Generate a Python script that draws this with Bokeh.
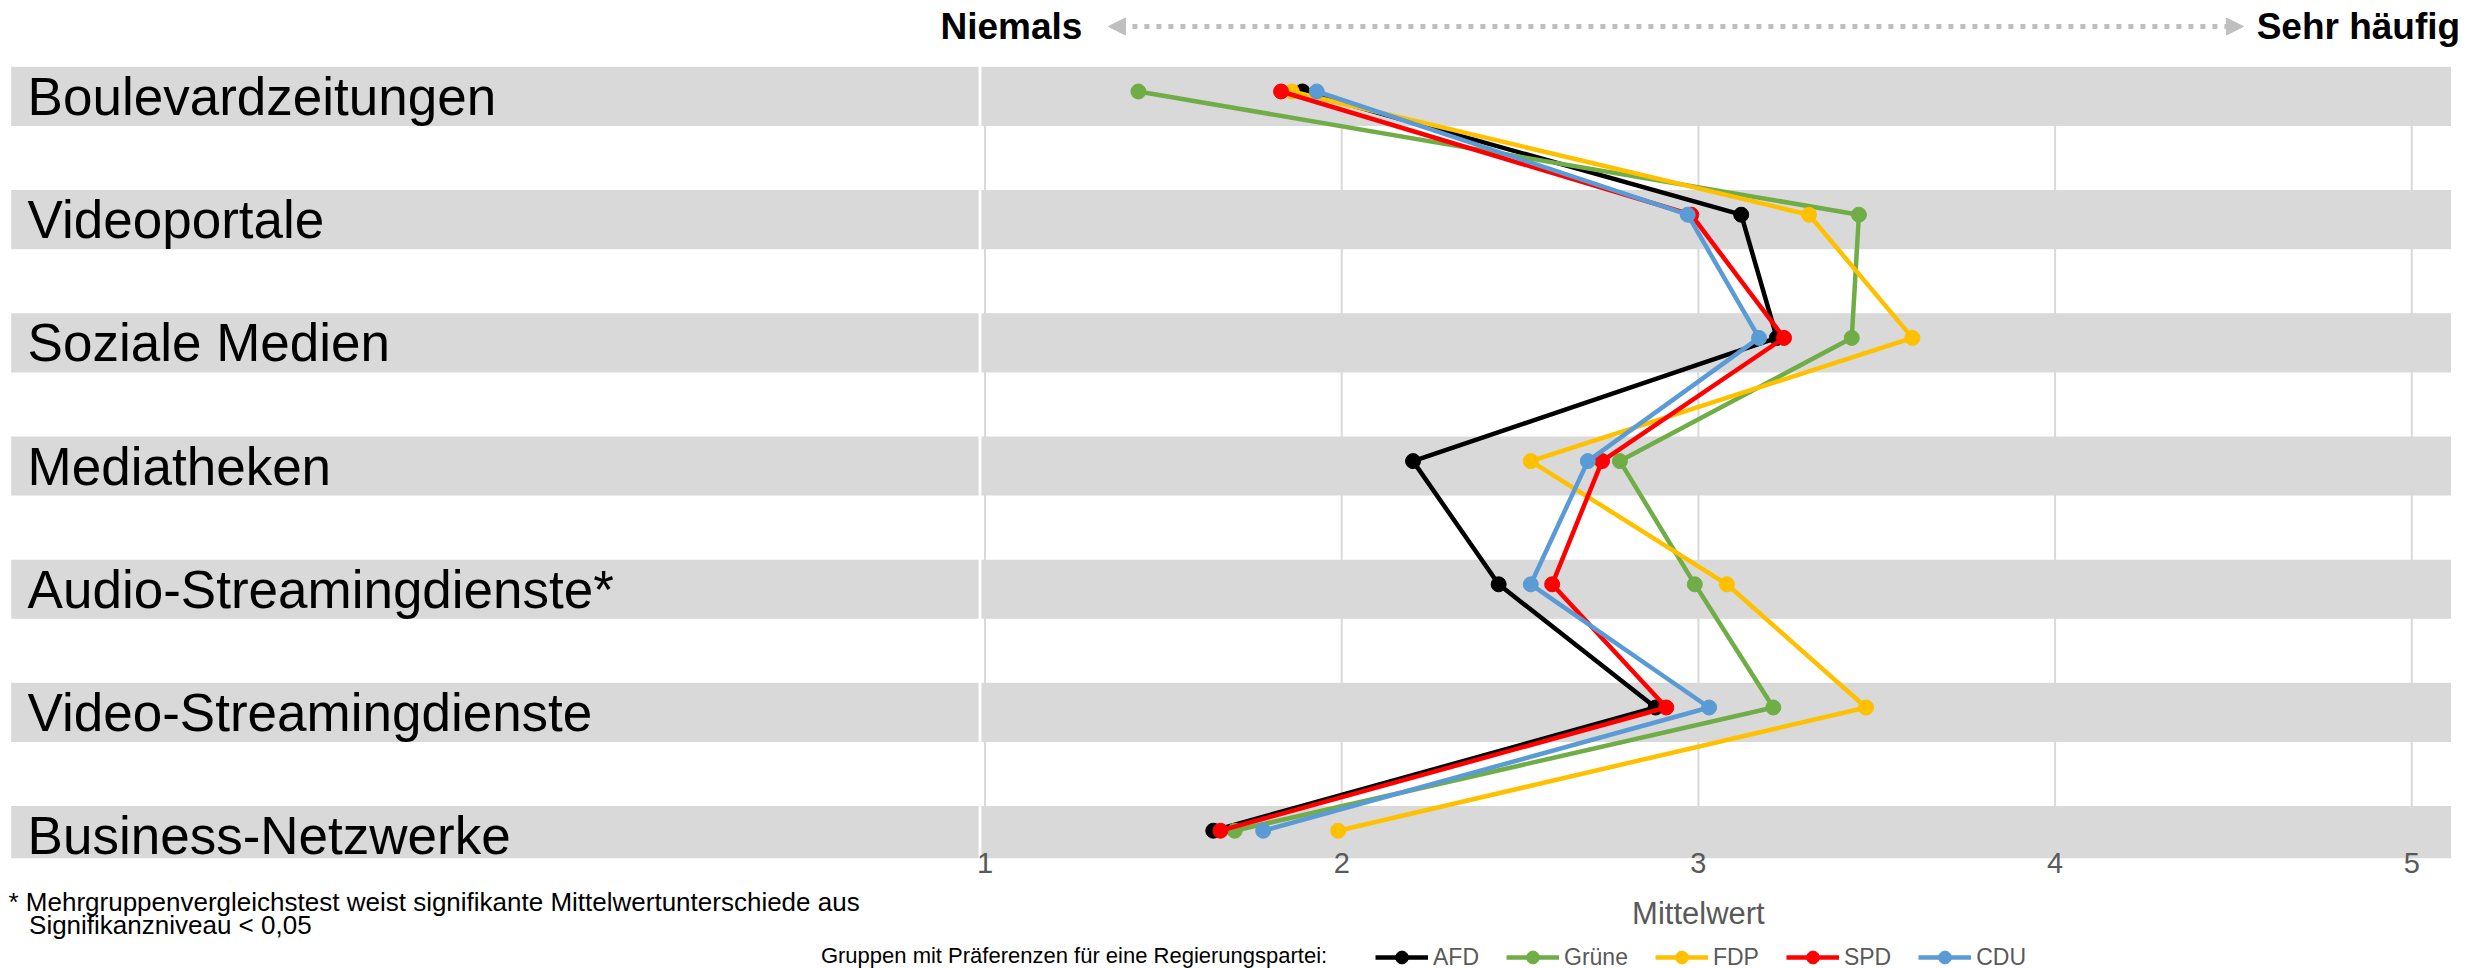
from bokeh.plotting import figure
from bokeh.layouts import column
from bokeh.models import (Range1d, Legend, LegendItem, Arrow, NormalHead, FixedTicker)
from bokeh.core.properties import value
from bokeh.embed import file_html
from bokeh.resources import INLINE

# ---------------- data ----------------
categories = ["Boulevardzeitungen", "Videoportale", "Soziale Medien", "Mediatheken",
              "Audio-Streamingdienste*", "Video-Streamingdienste", "Business-Netzwerke"]
afd    = [1.89, 3.12, 3.22, 2.20, 2.44, 2.88, 1.64]
gruene = [1.43, 3.45, 3.43, 2.78, 2.99, 3.21, 1.70]
fdp    = [1.86, 3.31, 3.60, 2.53, 3.08, 3.47, 1.99]
spd    = [1.83, 2.98, 3.24, 2.73, 2.59, 2.91, 1.66]
cdu    = [1.93, 2.97, 3.17, 2.69, 2.53, 3.03, 1.78]
parties = ["AFD", "Grüne", "FDP", "SPD", "CDU"]
series = [afd, gruene, fdp, spd, cdu]
colors = ["#000000", "#70AD47", "#FFC000", "#FF0000", "#5B9BD5"]
x_ticks = [1, 2, 3, 4, 5]
scale_left = "Niemals"
scale_right = "Sehr häufig"
axis_title = "Mittelwert"
footnote_1 = "* Mehrgruppenvergleichstest weist signifikante Mittelwertunterschiede aus"
footnote_2 = "Signifikanzniveau < 0,05"
legend_title = "Gruppen mit Präferenzen für eine Regierungspartei:"

FONT = "Liberation Sans"
rows = list(range(len(categories)))
band_y = [r + 0.04 for r in rows]

xr = Range1d(-1.760, 5.1814)

# ---------------- main chart ----------------
p = figure(width=2476, height=883, title=None,
           x_range=xr, y_range=Range1d(6.2256, -0.7386),
           output_backend="svg", toolbar_location=None, y_axis_location=None,
           min_border_left=0, min_border_right=0, min_border_top=0, min_border_bottom=25)
p.outline_line_color = None
p.background_fill_color = "white"
p.grid.visible = False

p.xaxis.ticker = FixedTicker(ticks=x_ticks)
p.xaxis.axis_line_color = None
p.xaxis.major_tick_line_color = None
p.xaxis.minor_tick_line_color = None
p.xaxis.major_tick_out = 0
p.xaxis.major_tick_in = 0
p.xaxis.minor_tick_out = 0
p.xaxis.major_label_text_font = FONT
p.xaxis.major_label_text_font_size = "29px"
p.xaxis.major_label_text_color = "#595959"
p.xaxis.major_label_standoff = -6

# vertical grid lines at the tick values (below the bands)
p.segment(x0=x_ticks, y0=[0] * len(x_ticks), x1=x_ticks, y1=[6.6] * len(x_ticks),
          line_color="#D9D9D9", line_width=2)

# grey bands: label area and plot area
p.hbar(y=band_y, left=-1.73, right=0.982, height=0.48, fill_color="#D9D9D9", line_color=None)
p.hbar(y=band_y, left=0.99, right=5.11, height=0.48, fill_color="#D9D9D9", line_color=None)

# category labels
p.text(x=[-1.684] * len(categories), y=band_y, text=categories,
       text_font=value(FONT), text_font_size="53px", text_color="#000000",
       text_baseline="middle", text_align="left")

# series
for name, vals, col in zip(parties, series, colors):
    p.line(x=vals, y=rows, line_color=col, line_width=4.5)
    p.scatter(x=vals, y=rows, size=15, fill_color=col, line_color=col)

# scale arrow on top
arrow_y = -0.5276
p.add_layout(Arrow(x_start=1.346, y_start=arrow_y, x_end=4.528, y_end=arrow_y,
                   line_color="#BFBFBF", line_width=5, line_dash="5 7",
                   start=NormalHead(size=17, fill_color="#BFBFBF", line_color="#BFBFBF"),
                   end=NormalHead(size=17, fill_color="#BFBFBF", line_color="#BFBFBF")))
p.text(x=[1.273], y=[arrow_y], text=[scale_left], text_font=value(FONT),
       text_font_size="37px", text_font_style="bold", text_color="#000000",
       text_align="right", text_baseline="middle")
p.text(x=[4.565], y=[arrow_y], text=[scale_right], text_font=value(FONT),
       text_font_size="37px", text_font_style="bold", text_color="#000000",
       text_align="left", text_baseline="middle")

# ---------------- bottom strip: axis title, footnote, legend ----------------
q = figure(width=2476, height=85, title=None, x_range=xr, y_range=Range1d(85, 0),
           output_backend="svg", toolbar_location=None,
           x_axis_location=None, y_axis_location=None,
           min_border_left=0, min_border_right=0, min_border_top=0, min_border_bottom=0)
q.outline_line_color = None
q.grid.visible = False
q.background_fill_color = "white"

q.text(x=[3], y=[29.5], text=[axis_title], text_font=value(FONT), text_font_size="31px",
       text_color="#595959", text_align="center", text_baseline="middle")
q.text(x=[-1.7376], y=[18], text=[footnote_1], text_font=value(FONT), text_font_size="26px",
       text_color="#000000", text_align="left", text_baseline="alphabetic")
q.text(x=[-1.680], y=[41], text=[footnote_2], text_font=value(FONT), text_font_size="26px",
       text_color="#000000", text_align="left", text_baseline="alphabetic")
q.text(x=[0.540], y=[72], text=[legend_title], text_font=value(FONT), text_font_size="22px",
       text_color="#000000", text_align="left", text_baseline="middle")

# legend (its sample renderers sit outside the visible range)
items = []
for name, col in zip(parties, colors):
    lr = q.line(x=[-5, -4], y=[-100, -100], line_color=col, line_width=4.5)
    sr = q.scatter(x=[-5], y=[-100], size=15, fill_color=col, line_color=col)
    items.append(LegendItem(label=name, renderers=[lr, sr]))
legend = Legend(items=items, orientation="horizontal", location=(1375, -5),
                glyph_width=53, glyph_height=32, label_height=32, label_standoff=5, spacing=27,
                padding=0, margin=0, border_line_color=None, background_fill_alpha=0,
                label_text_font=FONT, label_text_font_size="23px",
                label_text_color="#595959")
q.add_layout(legend)

layout = column(p, q, spacing=0)
open("out.html", "w").write(file_html(layout, INLINE))
